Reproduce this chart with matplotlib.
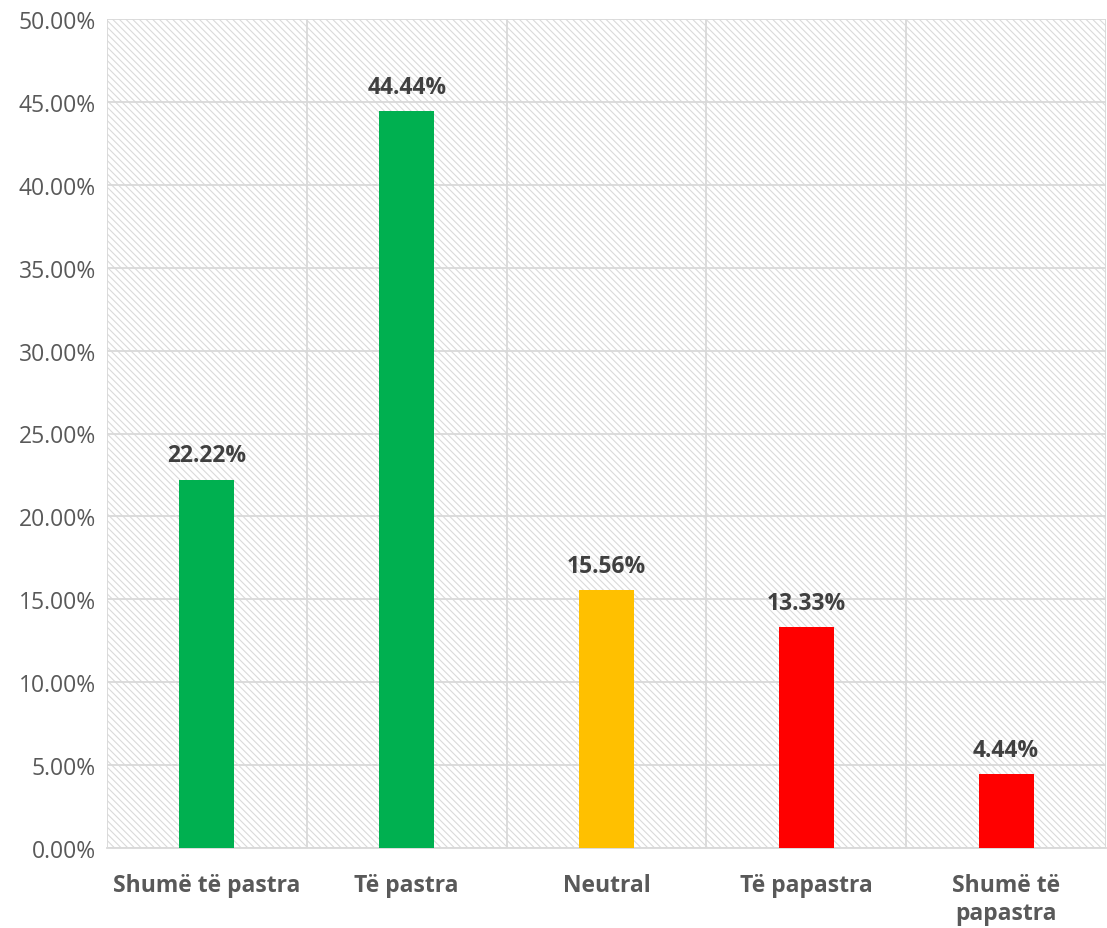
import numpy as np
import matplotlib
matplotlib.use('Agg')
import matplotlib.pyplot as plt
from matplotlib.patches import Rectangle
from matplotlib.ticker import MultipleLocator, FuncFormatter

plt.rcParams['font.family'] = ['Open Sans', 'DejaVu Sans']
plt.rcParams['hatch.color'] = '#dadada'
plt.rcParams['hatch.linewidth'] = 0.8

categories = ['Shumë të pastra', 'Të pastra', 'Neutral', 'Të papastra', 'Shumë të\npapastra']
values = [22.22, 44.44, 15.56, 13.33, 4.44]
colors = ['#00b050', '#00b050', '#ffc000', '#ff0000', '#ff0000']

fig = plt.figure(figsize=(11.07, 9.29), dpi=100)
ax = fig.add_axes([107/1107, 80/929, 999/1107, 829/929])

x = np.arange(len(categories))
ax.set_xlim(-0.5, len(categories) - 0.5)
ax.set_ylim(0, 50)

# hatched background
bg = Rectangle((0, 0), 1, 1, transform=ax.transAxes, facecolor='white',
               edgecolor='#dadada', hatch='\\\\\\\\\\', linewidth=0, zorder=0)
ax.add_patch(bg)
ax.set_facecolor('white')

for xv in np.arange(-0.5, len(categories), 1.0):
    ax.axvline(xv, color='#d9d9d9', lw=1.3, zorder=1)
ax.yaxis.set_major_locator(MultipleLocator(5))
ax.grid(axis='y', color='#d9d9d9', lw=1.3, zorder=1)
ax.set_axisbelow(True)

bars = ax.bar(x, values, width=0.275, color=colors, zorder=3)
for xi, v in zip(x, values):
    ax.text(xi, v + 0.75, f'{v:.2f}%', ha='center', va='bottom', fontsize=16.5,
            fontweight='bold', color='#404040', zorder=4)

ax.yaxis.set_major_formatter(FuncFormatter(lambda v, p: f'{v:.2f}%'))
ax.set_xticks(x)
ax.set_xticklabels(categories, fontsize=16.5, fontweight='bold', color='#595959',
                   linespacing=1.25, va='top')
ax.tick_params(axis='x', length=0, pad=18)
ax.tick_params(axis='y', length=0, labelsize=16.5, labelcolor='#595959', pad=8)

for s in ['top', 'right', 'left']:
    ax.spines[s].set_visible(False)
ax.spines['bottom'].set_color('#d9d9d9')
ax.spines['bottom'].set_linewidth(1.3)

fig.savefig('out.png', dpi=100)
